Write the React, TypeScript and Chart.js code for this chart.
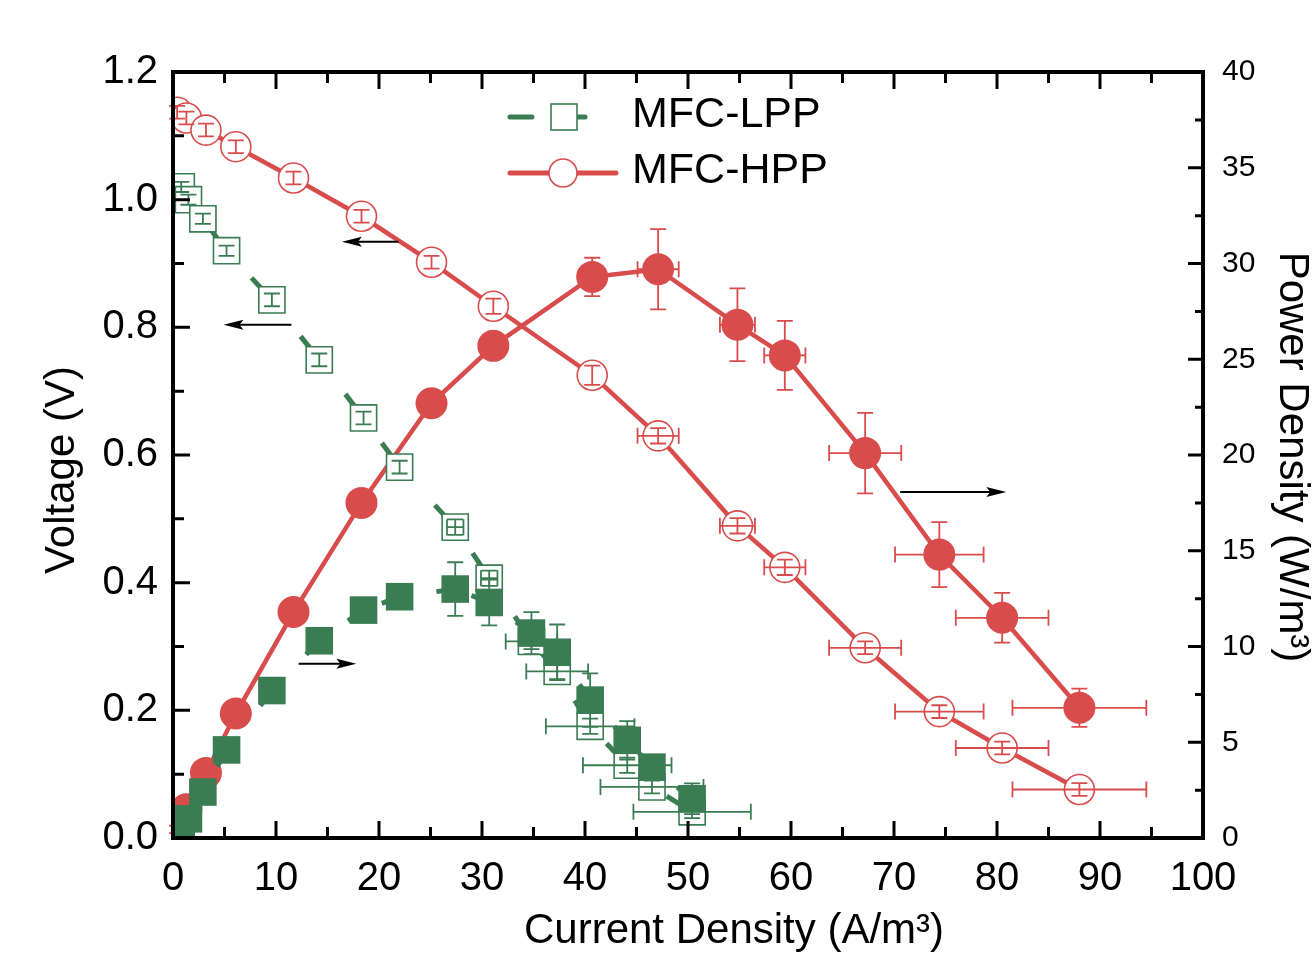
import React, { useEffect, useRef } from 'react';
import { Chart, registerables } from 'chart.js';

Chart.register(...registerables);

// ---------------- data ----------------
const lppCurrent = [0.8, 1.5, 2.9, 5.2, 9.6, 14.2, 18.5, 22.0, 27.4, 30.7, 34.8, 37.3, 40.5, 44.1, 46.5, 50.4];
const lppVoltage = [1.02, 1.0, 0.97, 0.92, 0.843, 0.749, 0.658, 0.581, 0.487, 0.407, 0.308, 0.261, 0.175, 0.114, 0.08, 0.041];
const lppVoltageErr = [0.008, 0.008, 0.008, 0.008, 0.01, 0.01, 0.01, 0.01, 0.012, 0.012, 0.012, 0.012, 0.012, 0.012, 0.01, 0.01];
const lppCurrentErrV = [0, 0, 0, 0, 0, 0, 0, 0, 0.8, 0.8, 2.5, 3.0, 4.3, 4.3, 5.0, 5.7];
const lppPower = [0.6, 1.0, 2.4, 4.6, 7.7, 10.3, 11.9, 12.6, 13.0, 12.3, 10.7, 9.7, 7.2, 5.1, 3.7, 2.05];
const lppPowerErr = [0.1, 0.1, 0.1, 0.15, 0.2, 0.3, 0.3, 0.3, 1.4, 1.2, 1.1, 1.45, 1.4, 1.0, 0.6, 0.8];
const lppCurrentErrP = [0, 0, 0, 0, 0, 0, 0, 0, 0, 0, 0, 0, 0, 0, 0, 0];

const hppCurrent = [0.4, 1.3, 3.2, 6.1, 11.7, 18.3, 25.1, 31.1, 40.7, 47.1, 54.8, 59.4, 67.2, 74.4, 80.5, 88.0];
const hppVoltage = [1.137, 1.128, 1.109, 1.083, 1.034, 0.974, 0.902, 0.833, 0.725, 0.63, 0.489, 0.424, 0.298, 0.198, 0.141, 0.076];
const hppVoltageErr = [0.01, 0.01, 0.01, 0.01, 0.01, 0.01, 0.01, 0.012, 0.015, 0.012, 0.012, 0.012, 0.01, 0.01, 0.01, 0.01];
const hppPower = [0.45, 1.5, 3.4, 6.5, 11.8, 17.5, 22.7, 25.7, 29.3, 29.7, 26.8, 25.2, 20.1, 14.8, 11.5, 6.8];
const hppPowerErr = [0.2, 0.2, 0.3, 0.3, 0.4, 0.4, 0.4, 0.5, 1.0, 2.1, 1.9, 1.8, 2.1, 1.7, 1.3, 1.0];
const hppCurrentErr = [0, 0, 0, 0, 0, 0, 0, 0, 0, 2.0, 1.7, 2.0, 3.5, 4.3, 4.5, 6.5];

const legendLabels = ['MFC-LPP', 'MFC-HPP'];
const xTitle = 'Current Density (A/m³)';
const yTitle = 'Voltage (V)';
const y1Title = 'Power Density (W/m³)';

// arrows in (current density, voltage) units
const arrowFromX = [21.9, 11.5, 12.2, 70.6];
const arrowToX = [16.4, 4.9, 17.8, 80.9];
const arrowY = [0.934, 0.804, 0.273, 0.542];

// ---------------- styles ----------------
const RED = '#d94c4c';
const GREEN = '#3b7d53';
const FONT = '"Liberation Sans", Arial, sans-serif';

const pts = (xs: number[], ys: number[]) => xs.map((x, i) => ({ x, y: ys[i] }));

const dashNearEnd = (d: number) => ({
  borderDash: (c: any) => {
    const L = Math.hypot(c.p1.x - c.p0.x, c.p1.y - c.p0.y);
    return L > d ? [0, L - d, d, 100000] : [L + 2, 100000];
  },
});

const overlayPlugin = {
  id: 'overlay',
  afterDatasetDraw(chart: any, args: any) {
    const ds = chart.data.datasets[args.index];
    if (!ds.errorY) return;
    const ctx = chart.ctx;
    const xs = chart.scales.x;
    const ys = chart.scales[ds.yAxisID];
    const cap = 8;
    ctx.save();
    ctx.strokeStyle = ds.errColor;
    ctx.lineWidth = 1.8;
    ds.data.forEach((p: any, i: number) => {
      const px = xs.getPixelForValue(p.x);
      const py = ys.getPixelForValue(p.y);
      const ey = ds.errorY[i] || 0;
      const ex = (ds.errorX && ds.errorX[i]) || 0;
      ctx.beginPath();
      if (ey > 0) {
        const t = ys.getPixelForValue(p.y + ey);
        const b = ys.getPixelForValue(p.y - ey);
        ctx.moveTo(px, t); ctx.lineTo(px, b);
        ctx.moveTo(px - cap, t); ctx.lineTo(px + cap, t);
        ctx.moveTo(px - cap, b); ctx.lineTo(px + cap, b);
      }
      if (ex > 0) {
        const l = xs.getPixelForValue(p.x - ex);
        const r = xs.getPixelForValue(p.x + ex);
        ctx.moveTo(l, py); ctx.lineTo(r, py);
        ctx.moveTo(l, py - cap); ctx.lineTo(l, py + cap);
        ctx.moveTo(r, py - cap); ctx.lineTo(r, py + cap);
      }
      ctx.stroke();
    });
    ctx.restore();
  },
  afterDraw(chart: any) {
    const ctx = chart.ctx;
    const { left, right, top, bottom } = chart.chartArea;
    const xs = chart.scales.x;
    const ys = chart.scales.y;
    const y1 = chart.scales.y1;
    ctx.save();
    // frame
    ctx.strokeStyle = '#000';
    ctx.lineWidth = 4;
    ctx.strokeRect(left, top, right - left, bottom - top);
    // ticks
    ctx.lineWidth = 3;
    ctx.beginPath();
    for (let k = 0; k <= 20; k++) {
      const px = xs.getPixelForValue(k * 5);
      const len = k % 2 === 0 ? 17 : 11;
      ctx.moveTo(px, bottom); ctx.lineTo(px, bottom - len);
      ctx.moveTo(px, top); ctx.lineTo(px, top + len);
    }
    for (let k = 0; k <= 12; k++) {
      const py = ys.getPixelForValue(k * 0.1);
      const len = k % 2 === 0 ? 17 : 11;
      ctx.moveTo(left, py); ctx.lineTo(left + len, py);
    }
    for (let k = 0; k <= 16; k++) {
      const py = y1.getPixelForValue(k * 2.5);
      const len = k % 2 === 0 ? 15 : 8;
      ctx.moveTo(right, py); ctx.lineTo(right - len, py);
    }
    ctx.stroke();

    // arrows
    ctx.lineWidth = 2;
    ctx.fillStyle = '#000';
    arrowFromX.forEach((fx, i) => {
      const x0 = xs.getPixelForValue(fx);
      const x1 = xs.getPixelForValue(arrowToX[i]);
      const py = ys.getPixelForValue(arrowY[i]);
      const dir = Math.sign(x1 - x0);
      ctx.beginPath();
      ctx.moveTo(x0, py); ctx.lineTo(x1 - dir * 10, py);
      ctx.stroke();
      ctx.beginPath();
      ctx.moveTo(x1, py);
      ctx.lineTo(x1 - dir * 20, py - 5);
      ctx.lineTo(x1 - dir * 16, py);
      ctx.lineTo(x1 - dir * 20, py + 5);
      ctx.closePath();
      ctx.fill();
    });

    // legend
    const lx = left + 335;
    const r1 = top + 45;
    const r2 = top + 101;
    ctx.lineCap = 'round';
    ctx.strokeStyle = GREEN;
    ctx.lineWidth = 5;
    ctx.beginPath();
    ctx.moveTo(lx + 2, r1); ctx.lineTo(lx + 24, r1);
    ctx.moveTo(lx + 70, r1); ctx.lineTo(lx + 77, r1);
    ctx.stroke();
    ctx.lineCap = 'butt';
    ctx.fillStyle = '#fff';
    ctx.lineWidth = 1.6;
    ctx.fillRect(lx + 43, r1 - 13, 26, 26);
    ctx.strokeRect(lx + 43, r1 - 13, 26, 26);
    ctx.strokeStyle = RED;
    ctx.lineWidth = 5;
    ctx.lineCap = 'round';
    ctx.beginPath();
    ctx.moveTo(lx + 2, r2); ctx.lineTo(lx + 108, r2);
    ctx.stroke();
    ctx.lineCap = 'butt';
    ctx.lineWidth = 1.6;
    ctx.beginPath();
    ctx.arc(lx + 55, r2, 14, 0, Math.PI * 2);
    ctx.fillStyle = '#fff';
    ctx.fill();
    ctx.stroke();
    ctx.fillStyle = '#000';
    ctx.font = `43px ${FONT}`;
    ctx.textAlign = 'left';
    ctx.textBaseline = 'middle';
    ctx.fillText(legendLabels[0], lx + 124, r1 - 2);
    ctx.fillText(legendLabels[1], lx + 124, r2 - 2);

    // axis titles
    ctx.font = `42px ${FONT}`;
    ctx.textAlign = 'center';
    ctx.textBaseline = 'alphabetic';
    ctx.fillText(xTitle, (left + right) / 2 + 46, bottom + 105);
    ctx.save();
    ctx.translate(74, (top + bottom) / 2 + 15);
    ctx.rotate(-Math.PI / 2);
    ctx.fillText(yTitle, 0, 0);
    ctx.restore();
    ctx.save();
    ctx.translate(1280, (top + bottom) / 2 + 2);
    ctx.rotate(Math.PI / 2);
    ctx.fillText(y1Title, 0, 0);
    ctx.restore();
    ctx.restore();
  },
};

export default function App() {
  const ref = useRef<HTMLCanvasElement>(null);
  useEffect(() => {
    if (!ref.current) return;
    const tickFont = { family: FONT, size: 40 };
    const chart = new Chart(ref.current, {
      type: 'line',
      data: {
        datasets: [
          {
            label: 'LPP power',
            data: pts(lppCurrent, lppPower),
            yAxisID: 'y1',
            borderColor: GREEN,
            backgroundColor: GREEN,
            borderWidth: 5,
            segment: dashNearEnd(19),
            pointStyle: 'rect',
            pointRadius: 19.5,
            pointBorderWidth: 0,
            pointBackgroundColor: GREEN,
            pointBorderColor: GREEN,
            errorY: lppPowerErr,
            errorX: lppCurrentErrP,
            errColor: GREEN,
          } as any,
          {
            label: 'LPP voltage',
            data: pts(lppCurrent, lppVoltage),
            yAxisID: 'y',
            borderColor: GREEN,
            backgroundColor: '#fff',
            borderWidth: 5,
            segment: dashNearEnd(30),
            pointStyle: 'rect',
            pointRadius: 18.5,
            pointBorderWidth: 1.6,
            pointBackgroundColor: '#fff',
            pointBorderColor: GREEN,
            errorY: lppVoltageErr,
            errorX: lppCurrentErrV,
            errColor: GREEN,
          } as any,
          {
            label: 'HPP power',
            data: pts(hppCurrent, hppPower),
            yAxisID: 'y1',
            borderColor: RED,
            backgroundColor: RED,
            borderWidth: 4.5,
            pointStyle: 'circle',
            pointRadius: 16,
            pointBorderWidth: 0,
            pointBackgroundColor: RED,
            pointBorderColor: RED,
            errorY: hppPowerErr,
            errorX: hppCurrentErr,
            errColor: RED,
          } as any,
          {
            label: 'HPP voltage',
            data: pts(hppCurrent, hppVoltage),
            yAxisID: 'y',
            borderColor: RED,
            backgroundColor: '#fff',
            borderWidth: 4.5,
            pointStyle: 'circle',
            pointRadius: 15,
            pointBorderWidth: 1.6,
            pointBackgroundColor: '#fff',
            pointBorderColor: RED,
            errorY: hppVoltageErr,
            errorX: hppCurrentErr,
            errColor: RED,
          } as any,
        ],
      },
      options: {
        animation: false,
        responsive: false,
        devicePixelRatio: 1,
        layout: { padding: { top: 72, left: 0, right: 0, bottom: 0 } },
        plugins: { legend: { display: false }, tooltip: { enabled: false } },
        scales: {
          x: {
            type: 'linear',
            min: 0,
            max: 100,
            ticks: { stepSize: 10, font: tickFont, color: '#000', padding: 17, maxRotation: 0, autoSkip: false },
            grid: { display: false, drawTicks: false },
            border: { display: false },
            afterFit: (s: any) => { s.height = 128; },
          },
          y: {
            type: 'linear',
            position: 'left',
            min: 0,
            max: 1.2,
            ticks: {
              stepSize: 0.2,
              font: tickFont,
              color: '#000',
              padding: 15,
              callback: (v: any) => Number(v).toFixed(1),
            },
            grid: { display: false, drawTicks: false },
            border: { display: false },
            afterFit: (s: any) => { s.width = 173; },
          },
          y1: {
            type: 'linear',
            position: 'right',
            min: 0,
            max: 40,
            ticks: { stepSize: 5, font: { family: FONT, size: 30 }, color: '#000', padding: 19 },
            grid: { display: false, drawTicks: false },
            border: { display: false },
            afterFit: (s: any) => { s.width = 111; },
          },
        },
      } as any,
      plugins: [overlayPlugin],
    });
    return () => chart.destroy();
  }, []);
  return (
    <div style={{ position: 'fixed', left: 0, top: 0, width: 1314, height: 966, background: '#fff' }}>
      <canvas ref={ref} width={1314} height={966} />
    </div>
  );
}
